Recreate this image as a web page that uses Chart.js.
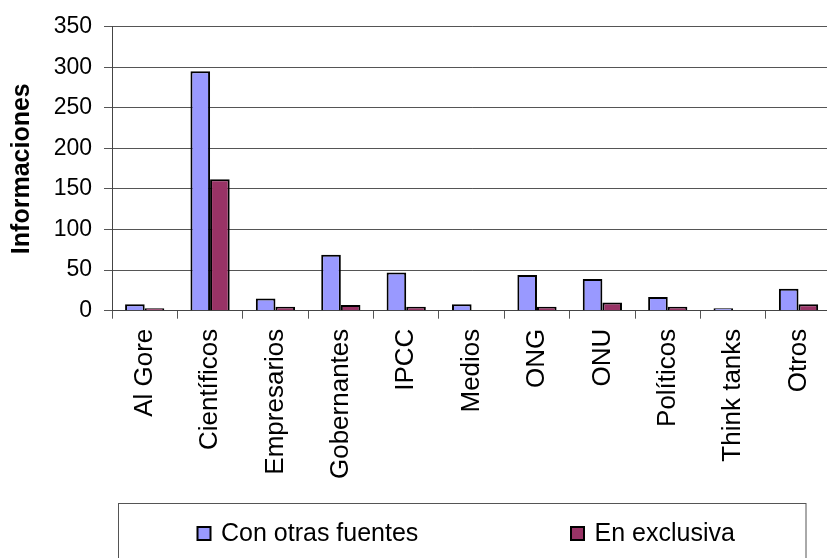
<!DOCTYPE html>
<html>
<head>
<meta charset="utf-8">
<script src="https://cdn.jsdelivr.net/npm/chart.js@4/dist/chart.umd.min.js"></script>
<style>
  html, body { margin: 0; padding: 0; overflow: hidden; background: #fff; width: 827px; height: 558px; }
  #wrap { width: 840px; height: 558px; position: relative; }
</style>
</head>
<body>
<div id="wrap"><canvas id="c" width="840" height="558"></canvas></div>
<script>
const categories = ['Al Gore', 'Científicos', 'Empresarios', 'Gobernantes', 'IPCC', 'Medios', 'ONG', 'ONU', 'Políticos', 'Think tanks', 'Otros'];
const conOtrasFuentes = [8, 295, 15, 69, 47, 8, 44, 39, 17, 3, 27];
const enExclusiva = [3, 162, 5, 7, 5, 0, 5, 10, 5, 0, 8];
const seriesNames = ['Con otras fuentes', 'En exclusiva'];
const yTitle = 'Informaciones';

const FONT = "'Liberation Sans', Arial, sans-serif";

const boxLegend = {
  id: 'boxLegend',
  afterDraw(chart) {
    const ctx = chart.ctx;
    ctx.save();
    ctx.strokeStyle = '#555';
    ctx.lineWidth = 1;
    ctx.strokeRect(118.5, 503.5, 687.5, 80);
    const itemX = [197.5, 571];
    ctx.font = '25px ' + FONT;
    ctx.textBaseline = 'alphabetic';
    ctx.textAlign = 'left';
    chart.data.datasets.forEach((ds, i) => {
      const x = itemX[i];
      ctx.fillStyle = ds.backgroundColor;
      ctx.fillRect(x, 527, 13, 13);
      ctx.strokeStyle = '#000';
      ctx.lineWidth = 2;
      ctx.strokeRect(x, 527, 13, 13);
      ctx.fillStyle = '#000';
      ctx.fillText(ds.label, x + 23.5, 541);
    });
    ctx.restore();
  }
};

new Chart(document.getElementById('c'), {
  type: 'bar',
  data: {
    labels: categories,
    datasets: [
      { label: seriesNames[0], data: conOtrasFuentes, backgroundColor: '#9999FF', borderColor: '#000', borderWidth: 2 },
      { label: seriesNames[1], data: enExclusiva, backgroundColor: '#993366', borderColor: '#000', borderWidth: 2 }
    ]
  },
  options: {
    responsive: false,
    animation: false,
    devicePixelRatio: 1,
    layout: { padding: { left: 0, top: 26.7, right: 6.4, bottom: 0 } },
    datasets: { bar: { categoryPercentage: 0.6, barPercentage: 1.0 } },
    plugins: { legend: { display: false }, tooltip: { enabled: false } },
    scales: {
      x: {
        offset: true,
        afterFit(scale) { scale.height = 247.3; },
        grid: { display: true, drawOnChartArea: false, drawTicks: true, tickLength: 8, offset: true, color: '#555', lineWidth: 1 },
        border: { display: true, color: '#444', width: 1 },
        ticks: { color: '#000', font: { family: FONT, size: 26 }, minRotation: 90, maxRotation: 90, padding: 10, autoSkip: false }
      },
      y: {
        min: 0, max: 350,
        afterFit(scale) { scale.width = 112; },
        grid: { color: '#555', lineWidth: 1, tickLength: 8, drawTicks: true },
        border: { display: true, color: '#444', width: 1 },
        ticks: { stepSize: 50, color: '#000', font: { family: FONT, size: 23 }, padding: 12 },
        title: { display: true, text: yTitle, color: '#000', font: { family: FONT, size: 25, weight: 'bold' }, padding: { top: 7.5, bottom: 0 } }
      }
    }
  },
  plugins: [boxLegend]
});
</script>
</body>
</html>
